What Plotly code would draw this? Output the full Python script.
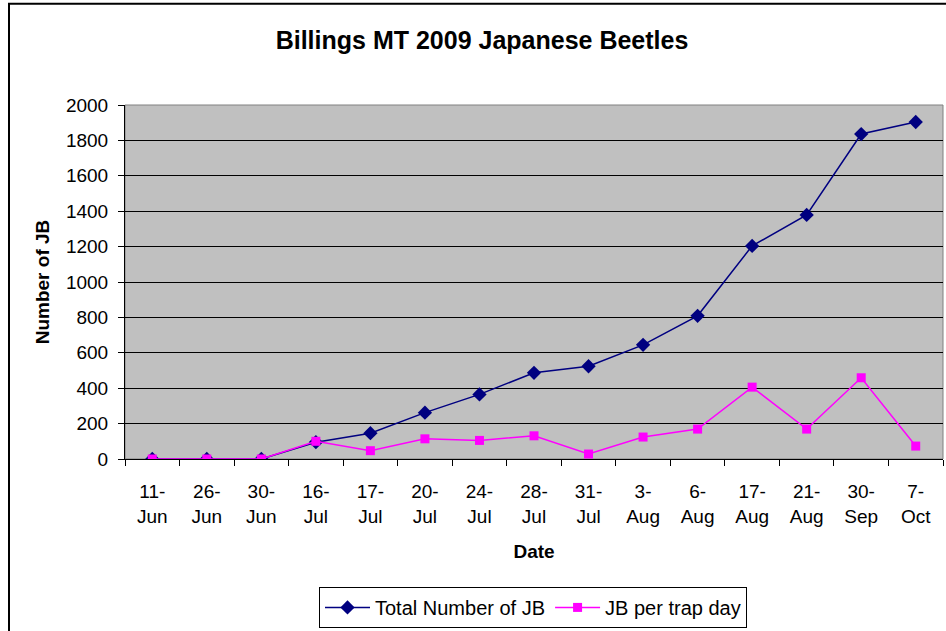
import plotly.graph_objects as go

dates = ["11-<br>Jun", "26-<br>Jun", "30-<br>Jun", "16-<br>Jul", "17-<br>Jul", "20-<br>Jul",
         "24-<br>Jul", "28-<br>Jul", "31-<br>Jul", "3-<br>Aug", "6-<br>Aug", "17-<br>Aug",
         "21-<br>Aug", "30-<br>Sep", "7-<br>Oct"]
total_jb = [0, 0, 0, 95, 146, 262, 365, 487, 524, 645, 809, 1204, 1379, 1836, 1904]
per_trap_day = [0, 0, 0, 100, 47, 114, 105, 131, 28, 124, 169, 406, 169, 459, 73]

W, H = 946, 631
L, R, T, B = 125, 3, 105, 169
pw, ph = W - L - R, H - T - B

fig = go.Figure()
fig.add_trace(go.Scatter(x=dates, y=total_jb, mode="lines+markers", name="Total Number of JB",
                         line=dict(color="#000080", width=1.5),
                         marker=dict(symbol="diamond", size=11, color="#000080")))
fig.add_trace(go.Scatter(x=dates, y=per_trap_day, mode="lines+markers", name="JB per trap day",
                         line=dict(color="#FF00FF", width=1.5),
                         marker=dict(symbol="square", size=9, color="#FF00FF")))

font = "Arial, Liberation Sans, sans-serif"

# outer chart border (left/top visible, right/bottom off the canvas)
fig.add_shape(type="rect", xref="paper", yref="paper",
              x0=(9 - L) / pw, x1=(W + 5 - L) / pw,
              y0=(H - B - (H + 10)) / ph, y1=(H - B - 3) / ph,
              line=dict(color="black", width=2), layer="below")
# plot area frame
fig.add_shape(type="rect", xref="paper", yref="paper", x0=0, x1=1, y0=0, y1=1,
              line=dict(color="#808080", width=1), layer="below")

fig.update_layout(
    width=W, height=H,
    margin=dict(l=L, r=R, t=T, b=B),
    paper_bgcolor="white",
    plot_bgcolor="#C0C0C0",
    font=dict(family=font, size=19, color="black"),
    title=dict(text="<b>Billings MT 2009 Japanese Beetles</b>", x=482 / W, xanchor="center",
               y=1 - 40 / H, yanchor="middle", font=dict(size=25)),
    showlegend=True,
    legend=dict(orientation="h", x=(533 - L) / pw, xanchor="center",
                y=(H - B - 591) / ph, yanchor="top",
                bordercolor="black", borderwidth=1, bgcolor="white",
                font=dict(size=20), itemwidth=45, tracegroupgap=0),
    xaxis=dict(
        range=[-0.5, len(dates) - 0.5],
        showgrid=False,
        showline=True, linecolor="black", linewidth=1,
        ticks="outside", tickson="boundaries", ticklen=6, tickcolor="black",
        tickfont=dict(size=19), ticklabelstandoff=15,
        title=dict(text="<b>Date</b>", font=dict(size=19), standoff=19),
    ),
    yaxis=dict(
        range=[0, 2000], dtick=200,
        showgrid=True, gridcolor="black", gridwidth=1,
        showline=True, linecolor="black", linewidth=1,
        ticks="outside", ticklen=6, tickcolor="black",
        tickfont=dict(size=19), ticklabelstandoff=6,
        title=dict(text="<b>Number of JB</b>", font=dict(size=19), standoff=11),
        zeroline=False,
    ),
)

fig.write_html("out.html", config={"displayModeBar": False},
               post_script="document.body.style.margin='0';")
